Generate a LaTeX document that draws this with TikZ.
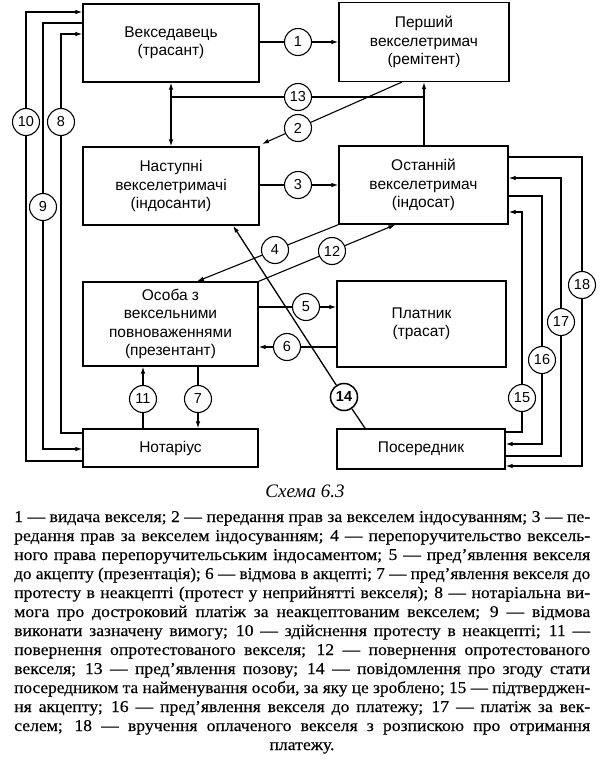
\documentclass[tikz,border=0pt]{standalone}
\usepackage{fontspec}
\usepackage{graphicx}
\setmainfont{Liberation Serif}
\setsansfont{Liberation Sans}
\newfontfamily\bodyfont{Liberation Serif}[FakeBold=0.3]
\usetikzlibrary{arrows.meta,calc}
\newsavebox\lbox
\newcommand\fitline[1]{%
  \sbox\lbox{#1}%
  \pgfmathsetmacro\sx{min(1.07,576/\wd\lbox)}%
  \pgfmathsetlengthmacro\iw{576pt/\sx}%
  \scalebox{\sx}[1]{\makebox[\iw][s]{#1}}}
\begin{document}
\begin{tikzpicture}[x=1pt,y=-1pt,
  box/.style={draw,line width=1.3pt,inner sep=0pt,align=center,
    font=\sffamily\fontsize{15.5}{18.5}\selectfont},
  num/.style={draw,circle,line width=1.1pt,fill=white,minimum size=27pt,inner sep=0pt,
    font=\sffamily\fontsize{14.5}{14.5}\selectfont},
  con/.style={line width=1.1pt},
  arr/.style={line width=1.1pt,-{Latex[length=7pt,width=4.5pt]}},
  darr/.style={line width=1.1pt,{Latex[length=7pt,width=4.5pt]}-{Latex[length=7pt,width=4.5pt]}},
  txt/.style={anchor=base west,inner sep=0pt,font=\bodyfont\fontsize{16.5}{19}\selectfont}]
\useasboundingbox (0,0) rectangle (600,761);
\fill[white] (0,0) rectangle (600,761);

% boxes
\node[box,minimum width=176pt,minimum height=78pt] (A) at (171,43) {Векседавець\\(трасант)};
\node[box,minimum width=170pt,minimum height=79pt] (P) at (424,42) {Перший\\векселетримач\\(ремітент)};
\node[box,minimum width=176pt,minimum height=78pt] (N) at (171,186) {Наступні\\векселетримачі\\(індосанти)};
\node[box,minimum width=169pt,minimum height=78pt] (O) at (423.5,185) {Останній\\векселетримач\\(індосат)};
\node[box,minimum width=175pt,minimum height=84pt] (Os) at (170.5,324) {Особа з\\вексельними\\повноваженнями\\(презентант)};
\node[box,minimum width=169pt,minimum height=86pt] (Pl) at (421.5,324) {Платник\\(трасат)};
\node[box,minimum width=175pt,minimum height=38pt] (Nt) at (170.5,448) {Нотаріус};
\node[box,minimum width=168pt,minimum height=40pt] (Ps) at (421,449) {Посередник};

% numbered circles
\node[num] (c1) at (298,42) {1};
\node[num] (c13) at (298,97) {13};
\node[num] (c2) at (298,128) {2};
\node[num] (c3) at (298,185) {3};
\node[num] (c4) at (275,250) {4};
\node[num] (c12) at (332,251) {12};
\node[num] (c5) at (306,307) {5};
\node[num] (c6) at (287,347) {6};
\node[num,line width=1.5pt,font=\sffamily\bfseries\fontsize{14.5}{14.5}\selectfont] (c14) at (344,397) {14};
\node[num] (c7) at (198,399) {7};
\node[num] (c11) at (143,399) {11};
\node[num] (c10) at (26,122) {10};
\node[num] (c8) at (61,122) {8};
\node[num] (c9) at (43,207) {9};
\node[num] (c15) at (522,398) {15};
\node[num] (c16) at (542,360) {16};
\node[num] (c17) at (561,322) {17};
\node[num] (c18) at (582,285) {18};

% free ends
\coordinate (s2) at ($(P.south west)!0.37!(P.south east)$);
\coordinate (e2) at (262,144);
\coordinate (e4) at ($(Os.north west)!0.65!(Os.north east)$);
\coordinate (e12) at ($(O.south west)!0.335!(O.south east)$);
\coordinate (s14) at ($(Ps.north west)!0.17!(Ps.north east)$);
\coordinate (e14) at ($(N.south west)!0.85!(N.south east)$);

% connectors
\draw[arr] (c1 -| A.east) -- (c1) -- (c1 -| P.west);
\draw[darr] (A.south) -- (N.north);
\draw[con] (c13 -| A.south) -- (c13) -- (c13 -| P.south);
\draw[arr] (O.north -| P.south) -- (P.south);
\draw[arr] (s2) -- (c2) -- (e2);
\draw[arr] (c3 -| N.east) -- (c3) -- (c3 -| O.west);
\draw[arr] (O.south west) -- (c4) -- (e4);
\draw[arr] (Os.north east) -- (c12) -- (e12);
\draw[arr] (c5 -| Os.east) -- (c5) -- (c5 -| Pl.west);
\draw[arr] (c6 -| Pl.west) -- (c6) -- (c6 -| Os.east);
\draw[arr,line width=1.3pt] (s14) -- (c14) -- (e14);
\draw[arr] (Os.south -| c7) -- (c7) -- (Nt.north -| c7);
\draw[arr] (Nt.north -| c11) -- (c11) -- (Os.south -| c11);
% left side
\draw[con] (Nt.west |- 0,433) -| (c8);
\draw[arr] (c8) |- (A.west |- 0,34);
\draw[con] (A.west |- 0,23) -| (c9);
\draw[arr] (c9) |- (Nt.west |- 0,449);
\draw[con] (Nt.west |- 0,461) -| (c10);
\draw[arr] (c10) |- (A.west |- 0,12);
% right side
\draw[con] (Ps.east |- 0,432) -| (c15);
\draw[arr] (c15) |- (O.east |- 0,212);
\draw[con] (O.east |- 0,196) -| (c16);
\draw[arr] (c16) |- (Ps.east |- 0,444);
\draw[con] (Ps.east |- 0,456) -| (c17);
\draw[arr] (c17) |- (O.east |- 0,178);
\draw[con] (O.east |- 0,157) -| (c18);
\draw[arr] (c18) |- (Ps.east |- 0,466);

% caption
\node[anchor=base,inner sep=0pt,font=\itshape\fontsize{19}{19}\selectfont] (cap) at (305,497) {Схема 6.3};
\node[txt] (t1) at (14,522) {\fitline{1 — видача векселя; 2 — передання прав за векселем індосуванням; 3 — пе-}};
\node[txt] (t2) at (14,541) {\fitline{редання прав за векселем індосуванням; 4 — перепоручительство вексель-}};
\node[txt] (t3) at (14,560) {\fitline{ного права перепоручительським індосаментом; 5 — пред’явлення векселя}};
\node[txt] (t4) at (14,579) {\fitline{до акцепту (презентація); 6 — відмова в акцепті; 7 — пред’явлення векселя до}};
\node[txt] (t5) at (14,598) {\fitline{протесту в неакцепті (протест у неприйнятті векселя); 8 — нотаріальна ви-}};
\node[txt] (t6) at (14,617) {\fitline{мога про достроковий платіж за неакцептованим векселем; 9 — відмова}};
\node[txt] (t7) at (14,636) {\fitline{виконати зазначену вимогу; 10 — здійснення протесту в неакцепті; 11 —}};
\node[txt] (t8) at (14,655) {\fitline{повернення опротестованого векселя; 12 — повернення опротестованого}};
\node[txt] (t9) at (14,674) {\fitline{векселя; 13 — пред’явлення позову; 14 — повідомлення про згоду стати}};
\node[txt] (t10) at (14,693) {\fitline{посередником та найменування особи, за яку це зроблено; 15 — підтверджен-}};
\node[txt] (t11) at (14,712) {\fitline{ня акцепту; 16 — пред’явлення векселя до платежу; 17 — платіж за век-}};
\node[txt] (t12) at (14,731) {\fitline{селем; 18 — вручення оплаченого векселя з розпискою про отримання}};
\node[txt,anchor=base] (t13) at (302,750) {\scalebox{1.07}[1]{платежу.}};
\end{tikzpicture}
\end{document}
